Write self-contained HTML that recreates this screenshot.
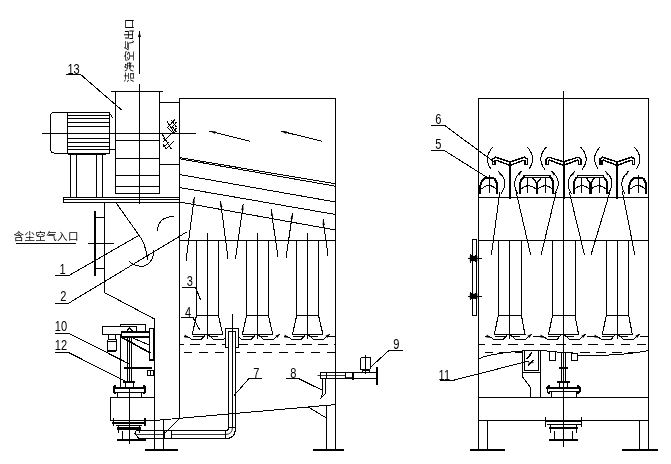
<!DOCTYPE html>
<html lang="zh"><head><meta charset="utf-8"><title>drawing</title>
<style>
html,body{margin:0;padding:0;background:#fff;}
svg{display:block;filter:grayscale(1)}
.num{font-family:"Liberation Sans","DejaVu Sans",sans-serif;fill:#000;stroke:none}
.cjk{font-family:"Liberation Sans","Noto Sans CJK SC","WenQuanYi Zen Hei",sans-serif;fill:#000;stroke:none}
</style></head><body>
<svg width="671" height="464" viewBox="0 0 671 464" fill="none" stroke="#000" shape-rendering="crispEdges" stroke-linecap="square">
<defs>
<clipPath id="cl"><rect x="179.5" y="340" width="156" height="16"/></clipPath>
<clipPath id="cr"><rect x="478.5" y="340" width="170" height="8"/></clipPath>
<clipPath id="cr2"><rect x="478.5" y="348" width="170" height="8"/></clipPath>
</defs>
<rect x="0" y="0" width="671" height="464" fill="#fff" stroke="none"/>
<text transform="translate(132.7,82.6) rotate(-90)" font-size="10.5" textLength="63.8" class="cjk">洁净空气出口</text>
<line x1="139.5" y1="73.2" x2="139.5" y2="31.5" stroke-width="1" />
<polygon points="139.50,31.50 141.00,37.00 138.00,37.00" fill="#000" stroke="none" shape-rendering="geometricPrecision"/>
<line x1="139.5" y1="84.3" x2="139.5" y2="203.3" stroke-width="1" />
<line x1="111.2" y1="91.5" x2="162.5" y2="91.5" stroke-width="1" />
<line x1="115.5" y1="91.5" x2="115.5" y2="193.5" stroke-width="1" />
<line x1="159.5" y1="91.5" x2="159.5" y2="193.5" stroke-width="1" />
<line x1="115.5" y1="140.5" x2="159.5" y2="140.5" stroke-width="1" />
<line x1="115.5" y1="158.5" x2="159.5" y2="158.5" stroke-width="1" />
<line x1="115.5" y1="175.5" x2="159.5" y2="175.5" stroke-width="1" />
<line x1="115.5" y1="186.5" x2="159.5" y2="186.5" stroke-width="1" />
<line x1="115.5" y1="193.5" x2="159.5" y2="193.5" stroke-width="1" />
<line x1="42" y1="133.5" x2="195" y2="133.5" stroke-width="1" />
<line x1="159.5" y1="102.5" x2="179.5" y2="102.5" stroke-width="1" />
<line x1="159.5" y1="164.5" x2="179.5" y2="164.5" stroke-width="1" />
<line x1="167.0" y1="121.3" x2="174.0" y2="132.5" stroke-width="1" />
<line x1="174.4" y1="120.0" x2="167.5" y2="127.8" stroke-width="1" />
<line x1="167.5" y1="127.8" x2="172.0" y2="132.0" stroke-width="1" />
<line x1="171.5" y1="120.5" x2="176.0" y2="126.5" stroke-width="1" />
<line x1="176.0" y1="122.5" x2="172.0" y2="127.5" stroke-width="1" />
<line x1="172.0" y1="126.0" x2="176.0" y2="131.5" stroke-width="1" />
<line x1="176.0" y1="128.5" x2="172.5" y2="133.0" stroke-width="1" />
<line x1="162.0" y1="134.0" x2="171.0" y2="148.5" stroke-width="1" />
<line x1="170.8" y1="134.3" x2="163.5" y2="141.5" stroke-width="1" />
<line x1="174.0" y1="141.2" x2="166.2" y2="148.5" stroke-width="1" />
<line x1="163.2" y1="138.0" x2="165.2" y2="141.0" stroke-width="1" />
<line x1="168.8" y1="142.6" x2="163.2" y2="147.0" stroke-width="1" />
<line x1="163.4" y1="144.6" x2="166.0" y2="148.6" stroke-width="1" />
<path d="M67.5 112.5 H54.3 Q50.5 112.5 50.5 116.5 V149 Q50.5 153 54.3 153 H67.5" stroke-width="1" fill="none" />
<line x1="67.5" y1="112.5" x2="67.5" y2="153" stroke-width="1" />
<line x1="67.5" y1="112.5" x2="109.5" y2="112.5" stroke-width="1" />
<line x1="109.5" y1="112.5" x2="109.5" y2="153" stroke-width="1" />
<line x1="67.5" y1="115.5" x2="108.9" y2="115.5" stroke-width="1" />
<line x1="67.5" y1="118.5" x2="108.9" y2="118.5" stroke-width="1" />
<line x1="67.5" y1="122.5" x2="108.9" y2="122.5" stroke-width="1" />
<line x1="67.5" y1="126.5" x2="108.9" y2="126.5" stroke-width="1" />
<line x1="67.5" y1="138.5" x2="108.9" y2="138.5" stroke-width="1" />
<line x1="67.5" y1="142.5" x2="108.9" y2="142.5" stroke-width="1" />
<line x1="67.5" y1="146.5" x2="108.9" y2="146.5" stroke-width="1" />
<line x1="67.5" y1="149.5" x2="108.9" y2="149.5" stroke-width="1" />
<line x1="67.5" y1="153.5" x2="109.5" y2="153.5" stroke-width="1" />
<line x1="68.4" y1="153.8" x2="104.8" y2="153.8" stroke-width="1.8" />
<line x1="109.5" y1="149.5" x2="115.5" y2="149.5" stroke-width="1" />
<line x1="70.5" y1="154" x2="70.5" y2="197" stroke-width="1" />
<line x1="76.5" y1="154" x2="76.5" y2="197" stroke-width="1" />
<line x1="96.5" y1="154" x2="96.5" y2="197" stroke-width="1" />
<line x1="102.5" y1="154" x2="102.5" y2="197" stroke-width="1" />
<line x1="63.5" y1="197.5" x2="179.5" y2="197.5" stroke-width="1" />
<line x1="63.5" y1="199.5" x2="179.5" y2="199.5" stroke-width="1" />
<line x1="63.5" y1="202.5" x2="179.5" y2="202.5" stroke-width="1" />
<line x1="63.5" y1="197.2" x2="63.5" y2="202.7" stroke-width="1" />
<text x="0" y="0" transform="translate(67.4,73.9) scale(0.72,1)" font-size="15.4" class="num">13</text>
<line x1="66.9" y1="74.5" x2="80.6" y2="74.5" stroke-width="1" />
<line x1="80.6" y1="74.5" x2="121.3" y2="109.7" stroke-width="1" />
<line x1="109.7" y1="113.3" x2="112.6" y2="117.6" stroke-width="1" />
<line x1="179.5" y1="98.5" x2="179.5" y2="418.5" stroke-width="1" />
<line x1="179.5" y1="98.5" x2="335.5" y2="98.5" stroke-width="1" />
<line x1="335.5" y1="98.5" x2="335.5" y2="449.2" stroke-width="1" />
<line x1="250" y1="141.2" x2="210" y2="131.2" stroke-width="1" />
<polygon points="210.00,131.20 215.68,131.18 215.00,133.89" fill="#000" stroke="none" shape-rendering="geometricPrecision"/>
<line x1="321.7" y1="141.2" x2="281.2" y2="131.2" stroke-width="1" />
<polygon points="281.20,131.20 286.88,131.16 286.20,133.88" fill="#000" stroke="none" shape-rendering="geometricPrecision"/>
<line x1="179.5" y1="157.6" x2="335.5" y2="183.8" stroke-width="1" />
<line x1="179.5" y1="158.8" x2="335.5" y2="186.2" stroke-width="1" />
<line x1="179.5" y1="174.5" x2="335.5" y2="202" stroke-width="1" />
<line x1="179.5" y1="187.5" x2="335.5" y2="214.5" stroke-width="1" />
<line x1="179.5" y1="202" x2="335.5" y2="230" stroke-width="1" />
<line x1="179.5" y1="240.5" x2="335.5" y2="240.5" stroke-width="1" />
<line x1="196.5" y1="240.5" x2="196.5" y2="315.2" stroke-width="1" />
<line x1="218.5" y1="240.5" x2="218.5" y2="315.2" stroke-width="1" />
<line x1="207.5" y1="233.8" x2="207.5" y2="338.2" stroke-width="1" />
<line x1="196.5" y1="315.5" x2="218.4" y2="315.5" stroke-width="1" />
<path d="M196.5 315.5 L192.2 334.5 L222.8 334.5 L218.4 315.5" stroke-width="1.1" fill="none" />
<line x1="246.5" y1="240.5" x2="246.5" y2="315.2" stroke-width="1" />
<line x1="268.5" y1="240.5" x2="268.5" y2="315.2" stroke-width="1" />
<line x1="257.5" y1="233.8" x2="257.5" y2="338.2" stroke-width="1" />
<line x1="246.6" y1="315.5" x2="268.4" y2="315.5" stroke-width="1" />
<path d="M246.6 315.5 L242.29999999999998 334.5 L272.79999999999995 334.5 L268.4 315.5" stroke-width="1.1" fill="none" />
<line x1="296.5" y1="240.5" x2="296.5" y2="315.2" stroke-width="1" />
<line x1="318.5" y1="240.5" x2="318.5" y2="315.2" stroke-width="1" />
<line x1="307.5" y1="233.8" x2="307.5" y2="338.2" stroke-width="1" />
<line x1="296.7" y1="315.5" x2="318.5" y2="315.5" stroke-width="1" />
<path d="M296.7 315.5 L292.4 334.5 L322.9 334.5 L318.5 315.5" stroke-width="1.1" fill="none" />
<line x1="186.0" y1="261.0" x2="194.3" y2="197.2" stroke-width="1" />
<polygon points="194.30,197.20 194.72,203.30 192.34,203.00" fill="#000" stroke="none" shape-rendering="geometricPrecision"/>
<line x1="228.0" y1="258.7" x2="220.5" y2="201.2" stroke-width="1" />
<polygon points="220.50,201.20 222.47,206.99 220.09,207.30" fill="#000" stroke="none" shape-rendering="geometricPrecision"/>
<line x1="235.5" y1="258.7" x2="243.2" y2="204.2" stroke-width="1" />
<polygon points="243.20,204.20 243.55,210.31 241.17,209.97" fill="#000" stroke="none" shape-rendering="geometricPrecision"/>
<line x1="278.0" y1="257.0" x2="271.2" y2="210.0" stroke-width="1" />
<polygon points="271.20,210.00 273.25,215.77 270.87,216.11" fill="#000" stroke="none" shape-rendering="geometricPrecision"/>
<line x1="286.2" y1="257.0" x2="292.5" y2="213.2" stroke-width="1" />
<polygon points="292.50,213.20 292.83,219.31 290.46,218.97" fill="#000" stroke="none" shape-rendering="geometricPrecision"/>
<line x1="328.0" y1="255.5" x2="323.0" y2="219.2" stroke-width="1" />
<polygon points="323.00,219.20 325.01,224.98 322.63,225.31" fill="#000" stroke="none" shape-rendering="geometricPrecision"/>
<line x1="184.1" y1="336.5" x2="187.1" y2="336.5" stroke-width="1" />
<path d="M187.1 336.5 L188.2 336.9 L191.79999999999998 339.5 L201.0 339.5 L205.29999999999998 335.0" stroke-width="1" fill="none" />
<line x1="193.0" y1="336.5" x2="203.4" y2="336.5" stroke-width="1" />
<polygon points="189.2,337.8 184.79999999999998,334.6 184.4,337.6" fill="#000" stroke="none" shape-rendering="geometricPrecision"/>
<path d="M208.79999999999998 335.2 L213.79999999999998 339.5 L223.2 339.5 L229.2 334.6" stroke-width="1" fill="none" />
<line x1="209.6" y1="336.5" x2="217.2" y2="336.5" stroke-width="1" />
<polygon points="230.0,333.8 225.4,335.8 227.4,338.0" fill="#000" stroke="none" shape-rendering="geometricPrecision"/>
<line x1="234.10000000000002" y1="336.5" x2="237.10000000000002" y2="336.5" stroke-width="1" />
<path d="M237.10000000000002 336.5 L238.20000000000002 336.9 L241.8 339.5 L251.00000000000003 339.5 L255.3 335.0" stroke-width="1" fill="none" />
<line x1="243.00000000000003" y1="336.5" x2="253.40000000000003" y2="336.5" stroke-width="1" />
<polygon points="239.20000000000002,337.8 234.8,334.6 234.40000000000003,337.6" fill="#000" stroke="none" shape-rendering="geometricPrecision"/>
<path d="M258.8 335.2 L263.8 339.5 L273.20000000000005 339.5 L279.20000000000005 334.6" stroke-width="1" fill="none" />
<line x1="259.6" y1="336.5" x2="267.20000000000005" y2="336.5" stroke-width="1" />
<polygon points="280.0,333.8 275.40000000000003,335.8 277.40000000000003,338.0" fill="#000" stroke="none" shape-rendering="geometricPrecision"/>
<line x1="284.1" y1="336.5" x2="287.1" y2="336.5" stroke-width="1" />
<path d="M287.1 336.5 L288.20000000000005 336.9 L291.8 339.5 L301.0 339.5 L305.3 335.0" stroke-width="1" fill="none" />
<line x1="293.0" y1="336.5" x2="303.40000000000003" y2="336.5" stroke-width="1" />
<polygon points="289.20000000000005,337.8 284.8,334.6 284.40000000000003,337.6" fill="#000" stroke="none" shape-rendering="geometricPrecision"/>
<path d="M308.8 335.2 L313.8 339.5 L323.20000000000005 339.5 L329.20000000000005 334.6" stroke-width="1" fill="none" />
<line x1="309.6" y1="336.5" x2="317.20000000000005" y2="336.5" stroke-width="1" />
<polygon points="330.0,333.8 325.40000000000003,335.8 327.40000000000003,338.0" fill="#000" stroke="none" shape-rendering="geometricPrecision"/>
<line x1="328.5" y1="336.5" x2="335.5" y2="336.5" stroke-width="1" />
<line x1="180" y1="344.5" x2="335.5" y2="344.5" stroke-dasharray="9.6 6.40" stroke-dashoffset="6.00" stroke-linecap="butt"/>
<line x1="184" y1="352.5" x2="335" y2="352.5" stroke-dasharray="9.6 6.40" stroke-dashoffset="1.50" stroke-linecap="butt"/>
<rect x="225.5" y="328.5" width="13" height="19" fill="#fff" stroke-width="1"/>
<rect x="228.5" y="331.5" width="7" height="100" fill="#fff" stroke="none"/>
<path d="M228.5 427.5 V331.5 H235.5 V427.5" stroke-width="1" fill="none" />
<line x1="232.5" y1="314.4" x2="232.5" y2="427.5" stroke-width="1" />
<path d="M235.5 427.5 Q235.5 438.5 226.5 438.5 H171.5" stroke-width="1" fill="none" />
<path d="M228.5 427.5 Q228.5 430.5 225.5 430.5 H171.5" stroke-width="1" fill="none" />
<path d="M232.5 427.5 Q232.5 434.5 225.5 434.5 H171.5" stroke-width="0.8" fill="none" />
<line x1="228.5" y1="427.5" x2="235.5" y2="427.5" stroke-width="1" />
<line x1="225.5" y1="430.5" x2="225.5" y2="438.5" stroke-width="1" />
<rect x="164.5" y="430.5" width="7.0" height="8.0" rx="0" stroke-width="1" fill="none"/>
<line x1="136.7" y1="430.5" x2="164.5" y2="430.5" stroke-width="1" />
<line x1="136.7" y1="434.5" x2="164.5" y2="434.5" stroke-width="0.8" />
<line x1="139.5" y1="438.5" x2="164.5" y2="438.5" stroke-width="1" />
<path d="M104.5 202.7 L104.5 292.6 L154.5 319 L154.5 449.5" stroke-width="1" fill="none" />
<line x1="95" y1="212" x2="95" y2="274.7" stroke-width="2.2" />
<line x1="95" y1="217.5" x2="104.5" y2="217.5" stroke-width="1" />
<line x1="95" y1="268.5" x2="104.5" y2="268.5" stroke-width="1" />
<line x1="88.7" y1="243.5" x2="113.7" y2="243.5" stroke-width="1" />
<path d="M116 202.7 L138.5 234.5 Q146 244 147.4 259.6" stroke-width="1" fill="none" />
<path d="M129.2 261.7 Q138 268 145.5 265.6 Q153.5 261.5 153.7 250.8" stroke-width="1" fill="none" />
<path d="M157.5 230.6 Q158 217.5 173.4 216.2" stroke-width="1" fill="none" />
<text x="13.6" y="239.7" font-size="10.5" textLength="64.8" class="cjk">含尘空气入口</text>
<line x1="16" y1="243.5" x2="75" y2="243.5" stroke-width="1" />
<text x="0" y="0" transform="translate(59.4,274.2) scale(0.72,1)" font-size="15.4" class="num">1</text>
<line x1="55" y1="275.5" x2="68.7" y2="275.5" stroke-width="1" />
<line x1="68.7" y1="275.6" x2="138.7" y2="235.5" stroke-width="1" />
<text x="0" y="0" transform="translate(60.3,301.4) scale(0.72,1)" font-size="15.4" class="num">2</text>
<line x1="55" y1="303.5" x2="68.7" y2="303.5" stroke-width="1" />
<line x1="68.7" y1="303.2" x2="186.7" y2="232" stroke-width="1" />
<text x="0" y="0" transform="translate(54.8,331.2) scale(0.72,1)" font-size="15.4" class="num">10</text>
<line x1="55" y1="333.5" x2="68.7" y2="333.5" stroke-width="1" />
<line x1="68.7" y1="333.2" x2="128.7" y2="363.7" stroke-width="1" />
<text x="0" y="0" transform="translate(54.8,350.2) scale(0.72,1)" font-size="15.4" class="num">12</text>
<line x1="55" y1="352.5" x2="68.7" y2="352.5" stroke-width="1" />
<line x1="68.7" y1="352.6" x2="125" y2="381" stroke-width="1" />
<text x="0" y="0" transform="translate(186.8,286.2) scale(0.72,1)" font-size="15.4" class="num">3</text>
<line x1="182.2" y1="287.5" x2="195.5" y2="287.5" stroke-width="1" />
<line x1="195.5" y1="287.4" x2="200.5" y2="299.7" stroke-width="1" />
<text x="0" y="0" transform="translate(185.0,317.0) scale(0.72,1)" font-size="15.4" class="num">4</text>
<line x1="181" y1="317.5" x2="193" y2="317.5" stroke-width="1" />
<line x1="193" y1="317.8" x2="199.7" y2="329.7" stroke-width="1" />
<text x="0" y="0" transform="translate(253.3,378.0) scale(0.72,1)" font-size="15.4" class="num">7</text>
<line x1="248.7" y1="378.5" x2="261" y2="378.5" stroke-width="1" />
<line x1="248.7" y1="378.8" x2="234.5" y2="395" stroke-width="1" />
<text x="0" y="0" transform="translate(290.2,378.0) scale(0.72,1)" font-size="15.4" class="num">8</text>
<line x1="286" y1="378.5" x2="299" y2="378.5" stroke-width="1" />
<line x1="299" y1="378.8" x2="321.7" y2="390" stroke-width="1" />
<text x="0" y="0" transform="translate(393.3,348.8) scale(0.72,1)" font-size="15.4" class="num">9</text>
<line x1="389.2" y1="350.5" x2="402.5" y2="350.5" stroke-width="1" />
<line x1="389.2" y1="350.2" x2="370.8" y2="367" stroke-width="1" />
<rect x="120.5" y="324.5" width="25.0" height="8.0" rx="0" stroke-width="1" fill="none"/>
<rect x="102.3" y="326.3" width="34.6" height="8.1" fill="#fff" stroke-width="1"/>
<rect x="108.5" y="334.5" width="7.0" height="5.0" rx="0" stroke-width="1" fill="none"/>
<rect x="107.5" y="339.5" width="9.0" height="12.0" rx="1.5" stroke-width="1" fill="none"/>
<line x1="107.5" y1="341.5" x2="116.9" y2="341.5" stroke-width="1" />
<line x1="107.5" y1="350.5" x2="116.9" y2="350.5" stroke-width="1" />
<path d="M126.4 331.6 L129.6 327.6 L132.8 331.6" stroke-width="1" fill="none" />
<rect x="121.3" y="332.3" width="28.2" height="4.9" fill="#fff" stroke-width="1.6"/>
<rect x="149.6" y="328.6" width="4.200000000000017" height="31.399999999999977" rx="0" stroke-width="1.4" fill="none"/>
<line x1="121.3" y1="337.2" x2="149.6" y2="352.6" stroke-width="1.6" />
<line x1="131.5" y1="337.4" x2="149.6" y2="345.2" stroke-width="1" />
<line x1="120.5" y1="334.4" x2="120.5" y2="387" stroke-width="1" />
<line x1="127.5" y1="337.5" x2="127.5" y2="382" stroke-width="1" />
<line x1="129.5" y1="337.5" x2="129.5" y2="382" stroke-width="1" />
<line x1="131.5" y1="337.5" x2="131.5" y2="382" stroke-width="1" />
<line x1="124.4" y1="368.2" x2="150.6" y2="368.2" stroke-width="1.8" />
<rect x="147.5" y="370.5" width="6.0" height="5.0" rx="0" stroke-width="1" fill="none"/>
<line x1="150.5" y1="370" x2="150.5" y2="375.2" stroke-width="1" />
<line x1="124" y1="382" x2="134.6" y2="382" stroke-width="1.6" />
<rect x="125.5" y="382.5" width="8.0" height="5.0" rx="0" stroke-width="1" fill="none"/>
<line x1="113.8" y1="388.2" x2="145.0" y2="388.2" stroke-width="2" />
<line x1="115" y1="392.5" x2="143.8" y2="392.5" stroke-width="1" />
<path d="M115.4 386 Q113.6 386 113.6 388 V391 Q113.6 392.8 115.4 392.8" stroke-width="1.8" fill="none" />
<path d="M143.4 386 Q145.2 386 145.2 388 V391 Q145.2 392.8 143.4 392.8" stroke-width="1.8" fill="none" />
<line x1="117.5" y1="392" x2="117.5" y2="397.3" stroke-width="1" />
<line x1="141.5" y1="392" x2="141.5" y2="397.3" stroke-width="1" />
<rect x="110.5" y="397.5" width="44.0" height="23.0" rx="0" stroke-width="1" fill="none"/>
<line x1="129.5" y1="388" x2="129.5" y2="443.4" stroke-width="1" />
<line x1="113.3" y1="422.6" x2="144.8" y2="422.6" stroke-width="1.8" />
<line x1="113.3" y1="418.4" x2="113.3" y2="425.4" stroke-width="1.4" />
<line x1="144.8" y1="418.4" x2="144.8" y2="425.4" stroke-width="1.4" />
<line x1="118.6" y1="428.4" x2="139.6" y2="428.4" stroke-width="2.4" />
<line x1="118.6" y1="425.6" x2="118.6" y2="431.8" stroke-width="1.4" />
<line x1="139.6" y1="425.6" x2="139.6" y2="431.8" stroke-width="1.4" />
<line x1="116.5" y1="425.5" x2="141.5" y2="425.5" stroke-width="1" />
<line x1="122.5" y1="431" x2="122.5" y2="439.6" stroke-width="1" />
<line x1="135.5" y1="431" x2="135.5" y2="433.6" stroke-width="1" />
<line x1="135.0" y1="433.6" x2="139.4" y2="439.2" stroke-width="1" />
<line x1="118" y1="439.8" x2="144.8" y2="439.8" stroke-width="1.8" />
<line x1="154.5" y1="420.5" x2="335.5" y2="404.6" stroke-width="1" />
<line x1="179.5" y1="418.3" x2="165.5" y2="432.5" stroke-width="1" />
<line x1="163.5" y1="419.8" x2="163.5" y2="449.5" stroke-width="1" />
<line x1="146.2" y1="449.6" x2="176.7" y2="449.6" stroke-width="1.8" />
<line x1="326.5" y1="405.4" x2="326.5" y2="449.2" stroke-width="1" />
<line x1="313.8" y1="449.6" x2="342.6" y2="449.6" stroke-width="1.8" />
<line x1="308" y1="406.9" x2="326.3" y2="418" stroke-width="1" />
<rect x="320.5" y="372.5" width="56.3" height="6" fill="none" stroke-width="1"/>
<line x1="318" y1="375.5" x2="345" y2="375.5" stroke-width="0.8" />
<circle cx="323.4" cy="375.6" r="3.4" fill="none"/>
<line x1="376.8" y1="368" x2="376.8" y2="383.8" stroke-width="2" />
<rect x="345.5" y="372.5" width="8.0" height="6.0" rx="0" stroke-width="1" fill="none"/>
<line x1="353.0" y1="372.5" x2="353.0" y2="378.9" stroke-width="1.8" />
<line x1="345.4" y1="377.5" x2="353" y2="377.5" stroke-width="0.8" />
<rect x="360.5" y="357.5" width="10.0" height="12.0" rx="1.5" stroke-width="1" fill="none"/>
<line x1="365.5" y1="355" x2="365.5" y2="373.4" stroke-width="1" />
<line x1="362.5" y1="369.2" x2="362.5" y2="372.5" stroke-width="1" />
<line x1="369.5" y1="369.2" x2="369.5" y2="372.5" stroke-width="1" />
<line x1="362" y1="370.5" x2="369.2" y2="370.5" stroke-width="1" />
<path d="M322.4 379 V394.4 M325.0 379 V394.2 L320.8 398.2" stroke-width="1" fill="none" />
<path d="M322.4 394.4 L320.8 398.2" stroke-width="1" fill="none" />
<line x1="478.5" y1="98.5" x2="478.5" y2="449.2" stroke-width="1" />
<line x1="648.5" y1="98.5" x2="648.5" y2="449.2" stroke-width="1" />
<line x1="478.5" y1="98.5" x2="648.5" y2="98.5" stroke-width="1" />
<line x1="563.5" y1="91.3" x2="563.5" y2="446.6" stroke-width="1" />
<line x1="478.5" y1="197.5" x2="648.5" y2="197.5" stroke-width="1" />
<line x1="478.5" y1="240.5" x2="648.5" y2="240.5" stroke-width="1" />
<line x1="478.5" y1="397.5" x2="648.5" y2="397.5" stroke-width="1" />
<line x1="478.5" y1="420.5" x2="648.5" y2="420.5" stroke-width="1" />
<line x1="487.5" y1="420.6" x2="487.5" y2="449.2" stroke-width="1" />
<line x1="471" y1="449.6" x2="504" y2="449.6" stroke-width="1.8" />
<line x1="639.5" y1="420.6" x2="639.5" y2="449.2" stroke-width="1" />
<line x1="623" y1="449.6" x2="657.5" y2="449.6" stroke-width="1.8" />
<line x1="498.5" y1="240.5" x2="498.5" y2="315.2" stroke-width="1" />
<line x1="521.5" y1="240.5" x2="521.5" y2="315.2" stroke-width="1" />
<line x1="509.5" y1="240.5" x2="509.5" y2="338.2" stroke-width="1" />
<line x1="498.3" y1="315.5" x2="521.4" y2="315.5" stroke-width="1" />
<path d="M498.3 315.5 L494.3 334.5 L525.0 334.5 L521.4 315.5" stroke-width="1.1" fill="none" />
<line x1="552.5" y1="240.5" x2="552.5" y2="315.2" stroke-width="1" />
<line x1="575.5" y1="240.5" x2="575.5" y2="315.2" stroke-width="1" />
<line x1="552.5" y1="315.5" x2="575.0" y2="315.5" stroke-width="1" />
<path d="M552.5 315.5 L548.5 334.5 L578.6 334.5 L575.0 315.5" stroke-width="1.1" fill="none" />
<line x1="606.5" y1="240.5" x2="606.5" y2="315.2" stroke-width="1" />
<line x1="628.5" y1="240.5" x2="628.5" y2="315.2" stroke-width="1" />
<line x1="617.5" y1="240.5" x2="617.5" y2="338.2" stroke-width="1" />
<line x1="606.3" y1="315.5" x2="628.7" y2="315.5" stroke-width="1" />
<path d="M606.3 315.5 L602.3 334.5 L632.3000000000001 334.5 L628.7 315.5" stroke-width="1.1" fill="none" />
<line x1="485.20000000000005" y1="336.5" x2="489.1" y2="336.5" stroke-width="1" />
<path d="M489.1 336.5 L490.20000000000005 336.9 L493.8 339.5 L503.0 339.5 L507.3 335.0" stroke-width="1" fill="none" />
<line x1="495.0" y1="336.5" x2="505.40000000000003" y2="336.5" stroke-width="1" />
<polygon points="491.20000000000005,337.8 486.8,334.6 486.40000000000003,337.6" fill="#000" stroke="none" shape-rendering="geometricPrecision"/>
<path d="M510.8 335.2 L515.8000000000001 339.5 L525.2 339.5 L531.2 334.6" stroke-width="1" fill="none" />
<line x1="511.6" y1="336.5" x2="519.2" y2="336.5" stroke-width="1" />
<polygon points="532.0,333.8 527.4,335.8 529.4,338.0" fill="#000" stroke="none" shape-rendering="geometricPrecision"/>
<line x1="533.0" y1="336.5" x2="543.0" y2="336.5" stroke-width="1" />
<path d="M543.0 336.5 L544.1 336.9 L547.7 339.5 L556.9 339.5 L561.2 335.0" stroke-width="1" fill="none" />
<line x1="548.9" y1="336.5" x2="559.3" y2="336.5" stroke-width="1" />
<polygon points="545.1,337.8 540.7,334.6 540.3,337.6" fill="#000" stroke="none" shape-rendering="geometricPrecision"/>
<path d="M564.7 335.2 L569.7 339.5 L579.1 339.5 L585.1 334.6" stroke-width="1" fill="none" />
<line x1="565.5" y1="336.5" x2="573.1" y2="336.5" stroke-width="1" />
<polygon points="585.9,333.8 581.3,335.8 583.3,338.0" fill="#000" stroke="none" shape-rendering="geometricPrecision"/>
<line x1="587.0" y1="336.5" x2="597.0" y2="336.5" stroke-width="1" />
<path d="M597.0 336.5 L598.1 336.9 L601.7 339.5 L610.9 339.5 L615.2 335.0" stroke-width="1" fill="none" />
<line x1="602.9" y1="336.5" x2="613.3" y2="336.5" stroke-width="1" />
<polygon points="599.1,337.8 594.7,334.6 594.3,337.6" fill="#000" stroke="none" shape-rendering="geometricPrecision"/>
<path d="M618.7 335.2 L623.7 339.5 L633.1 339.5 L639.1 334.6" stroke-width="1" fill="none" />
<line x1="619.5" y1="336.5" x2="627.1" y2="336.5" stroke-width="1" />
<polygon points="639.9,333.8 635.3,335.8 637.3,338.0" fill="#000" stroke="none" shape-rendering="geometricPrecision"/>
<line x1="640.4" y1="336.5" x2="648.5" y2="336.5" stroke-width="1" />
<line x1="479" y1="344.5" x2="648" y2="344.5" stroke-dasharray="9.6 6.50" stroke-dashoffset="3.30" stroke-linecap="butt"/>
<line x1="485" y1="352.5" x2="521.5" y2="352.5" stroke-dasharray="9.6 6.55" stroke-dashoffset="2.00" stroke-linecap="butt"/>
<line x1="578" y1="352.5" x2="638" y2="352.5" stroke-dasharray="9.6 6.55" stroke-dashoffset="14.25" stroke-linecap="butt"/>
<line x1="491.5" y1="254.2" x2="499.7" y2="192.7" stroke-width="1" />
<line x1="530.5" y1="254.2" x2="515.9" y2="190.7" stroke-width="1" />
<line x1="541.3" y1="254.2" x2="556.0" y2="192.7" stroke-width="1" />
<line x1="584.3" y1="254.2" x2="569.5" y2="192.7" stroke-width="1" />
<line x1="591.2" y1="254.2" x2="609.7" y2="192.7" stroke-width="1" />
<line x1="634.7" y1="254.2" x2="622.4" y2="191.7" stroke-width="1" />
<path d="M472.3 315 V241 Q472.3 239.3 474 239.3 H475 Q476.6 239.3 476.6 241 V315 Z" stroke-width="1" fill="none" />
<rect x="469.8" y="255.9" width="7.6" height="5.2" fill="#000" stroke="none" shape-rendering="geometricPrecision"/>
<line x1="468.8" y1="258.5" x2="481" y2="258.5" stroke-width="1" />
<line x1="470.5" y1="255.1" x2="476.5" y2="261.9" stroke-width="1" />
<line x1="470.5" y1="261.9" x2="476.5" y2="255.1" stroke-width="1" />
<rect x="469.8" y="293.7" width="7.6" height="5.2" fill="#000" stroke="none" shape-rendering="geometricPrecision"/>
<line x1="468.8" y1="296.5" x2="481" y2="296.5" stroke-width="1" />
<line x1="470.5" y1="292.90000000000003" x2="476.5" y2="299.7" stroke-width="1" />
<line x1="470.5" y1="299.7" x2="476.5" y2="292.90000000000003" stroke-width="1" />
<line x1="510.0" y1="162.6" x2="510.0" y2="197.5" stroke-width="2" />
<path d="M510.0 161.9 L495.4 157.2 L492.6 159.2 V164.6 L494.8 164.2 V160.8 L496.2 160.2 L510.0 165.4" stroke-width="1.5" fill="none" />
<path d="M510.0 161.9 L524.6 157.2 L527.4 159.2 V164.6 L525.2 164.2 V160.8 L523.8 160.2 L510.0 165.4" stroke-width="1.5" fill="none" />
<line x1="563.5" y1="162.6" x2="563.5" y2="197.5" stroke-width="2" />
<path d="M563.5 161.9 L548.9 157.2 L546.1 159.2 V164.6 L548.3 164.2 V160.8 L549.7 160.2 L563.5 165.4" stroke-width="1.5" fill="none" />
<path d="M563.5 161.9 L578.1 157.2 L580.9 159.2 V164.6 L578.7 164.2 V160.8 L577.3 160.2 L563.5 165.4" stroke-width="1.5" fill="none" />
<line x1="617.2" y1="162.6" x2="617.2" y2="197.5" stroke-width="2" />
<path d="M617.2 161.9 L602.6 157.2 L599.8000000000001 159.2 V164.6 L602.0 164.2 V160.8 L603.4000000000001 160.2 L617.2 165.4" stroke-width="1.5" fill="none" />
<path d="M617.2 161.9 L631.8000000000001 157.2 L634.6 159.2 V164.6 L632.4000000000001 164.2 V160.8 L631.0 160.2 L617.2 165.4" stroke-width="1.5" fill="none" />
<path d="M492.5 147.4 Q483.0 158 491.0 169.0" stroke-width="1" fill="none" />
<path d="M527.5 147.4 Q537.0 158 529.0 169.0" stroke-width="1" fill="none" />
<path d="M546.0 147.4 Q536.5 158 544.5 169.0" stroke-width="1" fill="none" />
<path d="M581.0 147.4 Q590.5 158 582.5 169.0" stroke-width="1" fill="none" />
<path d="M599.7 147.4 Q590.2 158 598.2 169.0" stroke-width="1" fill="none" />
<path d="M634.7 147.4 Q644.2 158 636.2 169.0" stroke-width="1" fill="none" />
<path d="M498.6 171.5 Q509.6 181.5 501.2 193.2" stroke-width="1" fill="none" />
<path d="M521.0 171.5 Q510.2 181.5 517.6 193.2" stroke-width="1" fill="none" />
<polygon points="498.0,170.6 501.6,174.4 500.0,175.4" fill="#000" stroke="none" shape-rendering="geometricPrecision"/>
<polygon points="521.6,170.6 518.0,174.4 519.6,175.4" fill="#000" stroke="none" shape-rendering="geometricPrecision"/>
<path d="M552.1 171.5 Q563.1 181.5 554.7 193.2" stroke-width="1" fill="none" />
<path d="M574.5 171.5 Q563.7 181.5 571.1 193.2" stroke-width="1" fill="none" />
<polygon points="551.5,170.6 555.1,174.4 553.5,175.4" fill="#000" stroke="none" shape-rendering="geometricPrecision"/>
<polygon points="575.1,170.6 571.5,174.4 573.1,175.4" fill="#000" stroke="none" shape-rendering="geometricPrecision"/>
<path d="M605.8000000000001 171.5 Q616.8000000000001 181.5 608.4000000000001 193.2" stroke-width="1" fill="none" />
<path d="M628.2 171.5 Q617.4000000000001 181.5 624.8000000000001 193.2" stroke-width="1" fill="none" />
<polygon points="605.2,170.6 608.8000000000001,174.4 607.2,175.4" fill="#000" stroke="none" shape-rendering="geometricPrecision"/>
<polygon points="628.8000000000001,170.6 625.2,174.4 626.8000000000001,175.4" fill="#000" stroke="none" shape-rendering="geometricPrecision"/>
<line x1="523.5999999999999" y1="175.6" x2="550.0" y2="175.6" stroke-width="1.2" />
<line x1="523.5999999999999" y1="177.5" x2="550.0" y2="177.5" stroke-width="1" />
<path d="M523.8 177.0 Q520.1999999999999 179.5 520.1999999999999 184 V192.6" stroke-width="2" fill="none" />
<path d="M549.8 177.0 Q553.4 179.5 553.4 184 V192.6" stroke-width="2" fill="none" />
<line x1="527.5" y1="177.6" x2="527.5" y2="192.4" stroke-width="1" />
<line x1="545.5" y1="177.6" x2="545.5" y2="192.4" stroke-width="1" />
<line x1="536.8" y1="182.8" x2="536.8" y2="192.6" stroke-width="2.2" />
<line x1="536.8" y1="183.4" x2="532.8" y2="178.0" stroke-width="1.4" />
<line x1="536.8" y1="183.4" x2="540.8" y2="178.0" stroke-width="1.4" />
<path d="M521.1999999999999 189 Q527.8 182.5 535.5999999999999 188.6" stroke-width="1" fill="none" />
<path d="M552.4 189 Q545.8 182.5 538.0 188.6" stroke-width="1" fill="none" />
<line x1="577.1999999999999" y1="175.6" x2="603.6" y2="175.6" stroke-width="1.2" />
<line x1="577.1999999999999" y1="177.5" x2="603.6" y2="177.5" stroke-width="1" />
<path d="M577.4 177.0 Q573.8 179.5 573.8 184 V192.6" stroke-width="2" fill="none" />
<path d="M603.4 177.0 Q607.0 179.5 607.0 184 V192.6" stroke-width="2" fill="none" />
<line x1="581.5" y1="177.6" x2="581.5" y2="192.4" stroke-width="1" />
<line x1="599.5" y1="177.6" x2="599.5" y2="192.4" stroke-width="1" />
<line x1="590.4" y1="182.8" x2="590.4" y2="192.6" stroke-width="2.2" />
<line x1="590.4" y1="183.4" x2="586.4" y2="178.0" stroke-width="1.4" />
<line x1="590.4" y1="183.4" x2="594.4" y2="178.0" stroke-width="1.4" />
<path d="M574.8 189 Q581.4 182.5 589.1999999999999 188.6" stroke-width="1" fill="none" />
<path d="M606.0 189 Q599.4 182.5 591.6 188.6" stroke-width="1" fill="none" />
<path d="M480.3 192.6 V186 C480.59999999999997 182 482.5 179.5 485.5 177.7 H493.2 C495.7 179.5 497.0 182 497.2 186 V192.6" stroke-width="2" fill="none" />
<line x1="489.5" y1="175.0" x2="489.5" y2="192.5" stroke-width="1" />
<path d="M481.59999999999997 188.8 Q489.2 181.8 496.59999999999997 189.2" stroke-width="1" fill="none" />
<path d="M629.3000000000001 192.6 V186 C629.6 182 631.5 179.5 634.5 177.7 H642.2 C644.7 179.5 646.0 182 646.2 186 V192.6" stroke-width="2" fill="none" />
<line x1="638.5" y1="175.0" x2="638.5" y2="192.5" stroke-width="1" />
<path d="M630.6 188.8 Q638.2 181.8 645.6 189.2" stroke-width="1" fill="none" />
<text x="0" y="0" transform="translate(435.3,124.2) scale(0.72,1)" font-size="15.4" class="num">6</text>
<line x1="431.9" y1="125.5" x2="444.8" y2="125.5" stroke-width="1" />
<line x1="444.8" y1="125.6" x2="493.3" y2="161.4" stroke-width="1" />
<text x="0" y="0" transform="translate(435.3,149.2) scale(0.72,1)" font-size="15.4" class="num">5</text>
<line x1="431.5" y1="150.5" x2="444.8" y2="150.5" stroke-width="1" />
<line x1="444.8" y1="150.8" x2="486.8" y2="177.2" stroke-width="1" />
<text x="0" y="0" transform="translate(438.6,380.0) scale(0.72,1)" font-size="15.4" class="num">11</text>
<line x1="440" y1="380.5" x2="451" y2="380.5" stroke-width="1" />
<line x1="451" y1="380.9" x2="528" y2="361.2" stroke-width="1" />
<path d="M478.5 358.8 Q490 353.6 522 351.0" stroke-width="1" fill="none" />
<rect x="522.5" y="350.5" width="18.0" height="22.0" rx="0" stroke-width="1" fill="none"/>
<path d="M524.5 350.5 V370.5 H538.5 V350.5" stroke-width="1" fill="none" />
<line x1="527.2" y1="358.6" x2="531.4" y2="353.2" stroke-width="1.6" />
<line x1="528.6" y1="365.4" x2="533.0" y2="360.4" stroke-width="1.4" />
<line x1="528.6" y1="363" x2="533.2" y2="362.6" stroke-width="0.8" />
<path d="M522 372 L522 376 L530.5 387.5 L530.5 397.4" stroke-width="1" fill="none" />
<line x1="540.5" y1="372" x2="540.5" y2="397.4" stroke-width="1" />
<path d="M540 350.4 L549.5 351.2" stroke-width="1" fill="none" />
<rect x="549.5" y="351.5" width="6.0" height="9.0" rx="0" stroke-width="1" fill="none"/>
<line x1="555" y1="351.6" x2="557.5" y2="352.2" stroke-width="1" />
<rect x="571.5" y="353.5" width="6.0" height="7.0" rx="0" stroke-width="1" fill="none"/>
<line x1="557.5" y1="352.5" x2="572" y2="352.5" stroke-width="1.6" />
<path d="M577 355.4 H585 Q620 356 648.5 350.6" stroke-width="1" fill="none" />
<line x1="561.5" y1="352.5" x2="561.5" y2="382" stroke-width="1" />
<line x1="565.5" y1="352.5" x2="565.5" y2="382" stroke-width="1" />
<line x1="559.5" y1="368.2" x2="567.0" y2="368.2" stroke-width="1.6" />
<line x1="558" y1="382.2" x2="568.8" y2="382.2" stroke-width="1.6" />
<rect x="559.5" y="382.5" width="8.0" height="6.0" rx="0" stroke-width="1" fill="none"/>
<line x1="547.2" y1="388.4" x2="580" y2="388.4" stroke-width="2" />
<line x1="549" y1="391.5" x2="578" y2="391.5" stroke-width="1" />
<path d="M549.4 386.2 Q547.4 386.2 547.4 388.2 V391 Q547.4 393 549.4 393" stroke-width="1.8" fill="none" />
<path d="M577.8 386.2 Q579.8 386.2 579.8 388.2 V391 Q579.8 393 577.8 393" stroke-width="1.8" fill="none" />
<line x1="551.5" y1="391" x2="551.5" y2="397.4" stroke-width="1" />
<line x1="576.5" y1="391" x2="576.5" y2="397.4" stroke-width="1" />
<line x1="545.5" y1="421.6" x2="581.2" y2="421.6" stroke-width="1.6" />
<line x1="545.5" y1="418" x2="545.5" y2="425.8" stroke-width="1.4" />
<line x1="581.2" y1="418" x2="581.2" y2="425.8" stroke-width="1.4" />
<line x1="547.2" y1="424.5" x2="580" y2="424.5" stroke-width="1" />
<line x1="550.3" y1="427.9" x2="576.5" y2="427.9" stroke-width="2.8" />
<line x1="550.3" y1="425" x2="550.3" y2="432" stroke-width="1.4" />
<line x1="576.5" y1="425" x2="576.5" y2="432" stroke-width="1.4" />
<line x1="554.5" y1="431" x2="554.5" y2="439.6" stroke-width="1" />
<line x1="572.5" y1="431" x2="572.5" y2="439.6" stroke-width="1" />
<line x1="550.3" y1="439.8" x2="577" y2="439.8" stroke-width="1.8" />
</svg>
</body></html>
